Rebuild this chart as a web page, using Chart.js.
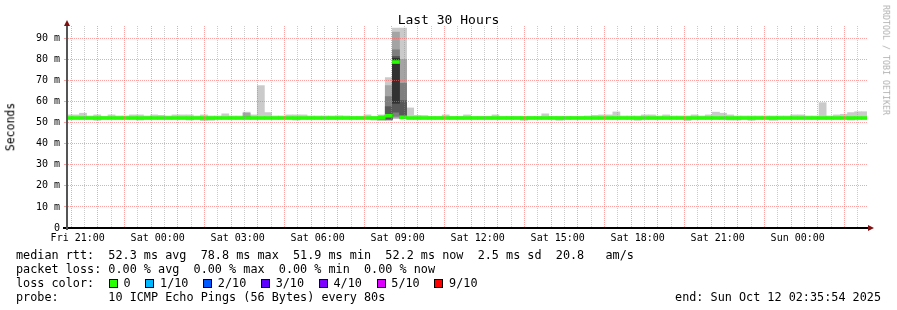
<!DOCTYPE html>
<html>
<head>
<meta charset="utf-8">
<script src="https://cdn.jsdelivr.net/npm/chart.js@4.4.0/dist/chart.umd.min.js"></script>
<style>
  html, body { margin: 0; padding: 0; background: #fff; }
  #wrap { position: relative; width: 897px; height: 310px; overflow: hidden; font-family: "DejaVu Sans Mono", monospace; color: #000; }
  #chart { position: absolute; left: 0; top: 0; }
  .txt { position: absolute; white-space: pre; line-height: 1; }
  #title { left: 0; width: 897px; text-align: center; top: 13px; font-size: 13px; }
  #ylabel { left: 11px; top: 127px; font-size: 11.5px; transform: translate(-50%, -50%) rotate(-90deg); }
  #credit { left: 886px; top: 60px; font-size: 8.3px; color: #b0b0b0; transform: translate(-50%, -50%) rotate(90deg); }
  #legend { left: 16px; top: 248px; font-size: 11.8px; white-space: normal; }
  #legend div { height: 14px; line-height: 14px; white-space: pre; }
  .box { display: inline-block; width: 7px; height: 7px; border: 1px solid #000; margin-left: 0.5px; margin-right: 5.7px; vertical-align: -1px; }
  #end { right: 16px; top: 290px; font-size: 11.8px; line-height: 14px; }
</style>
</head>
<body>
<div id="wrap">
  <canvas id="chart" width="897" height="310"></canvas>
  <div id="title" class="txt">Last 30 Hours</div>
  <div id="ylabel" class="txt">Seconds</div>
  <div id="credit" class="txt">RRDTOOL / TOBI OETIKER</div>
  <div id="legend" class="txt">
    <div>median rtt:  52.3 ms avg  78.8 ms max  51.9 ms min  52.2 ms now  2.5 ms sd  20.8   am/s</div>
    <div>packet loss: 0.00 % avg  0.00 % max  0.00 % min  0.00 % now</div>
    <div id="lossRow"></div>
    <div>probe:       10 ICMP Echo Pings (56 Bytes) every 80s</div>
  </div>
  <div id="end" class="txt">end: Sun Oct 12 02:35:54 2025</div>
</div>
<script>
// time range, in hours since Fri 00:00
const startHour = 20 + 35 / 60 + 54 / 3600;   // Fri 20:35:54
const endHour = startHour + 30;                // Sun 02:35:54
// consolidated rows: 12 x 80 s = 16 min, first row starts Fri 20:32
const firstBinMinute = 20 * 60 + 32;
const binMinutes = 16;

// highest / lowest ping of each row (outer smoke), ms
const pingHigh = [
  53.7, 53.7, 54.5, 53.2, 53.7, 53.0, 53.7, 53.2, 53.2, 53.7,
  53.7, 53.2, 53.7, 53.5, 53.2, 53.7, 53.7, 53.7, 53.2, 53.7,
  53.2, 53.2, 54.2, 53.2, 53.2, 55.0, 53.7, 67.6, 54.8, 53.2,
  53.2, 53.7, 53.7, 53.7, 53.2, 53.2, 53.2, 53.2, 53.3, 53.2,
  53.0, 53.0, 53.7, 53.0, 53.7, 71.4, 94.9, 94.9, 57.0, 53.5,
  53.4, 53.0, 53.0, 53.7, 53.0, 53.0, 53.7, 53.0, 53.0, 53.0,
  53.7, 53.0, 53.0, 53.0, 53.0, 53.0, 53.0, 54.2, 53.0, 53.0,
  53.0, 53.0, 53.0, 53.2, 53.5, 53.7, 53.7, 55.1, 53.2, 53.2,
  53.2, 53.7, 53.7, 53.2, 53.7, 53.2, 53.2, 53.2, 53.7, 53.2,
  53.7, 55.0, 54.5, 53.7, 53.2, 53.2, 53.2, 53.2, 53.2, 53.2,
  53.2, 53.2, 53.7, 53.7, 53.2, 53.2, 59.5, 53.2, 53.7, 54.0,
  54.8, 55.2, 55.2
];
const pingLow = [
  51.9, 51.9, 51.9, 51.9, 51.1, 51.9, 51.9, 51.9, 51.9, 51.9,
  51.2, 51.9, 51.9, 51.9, 51.9, 51.9, 51.9, 51.2, 51.9, 51.0,
  51.1, 51.9, 51.9, 51.9, 51.9, 51.9, 51.9, 51.9, 51.9, 51.9,
  51.9, 51.9, 51.2, 51.9, 51.9, 51.9, 51.9, 51.9, 51.9, 51.9,
  51.9, 51.9, 51.9, 51.2, 51.1, 51.1, 51.9, 51.8, 51.9, 51.9,
  51.9, 51.9, 51.9, 51.9, 51.9, 51.9, 51.9, 51.9, 51.9, 51.9,
  51.9, 51.9, 51.9, 51.9, 51.1, 51.9, 51.9, 51.9, 51.9, 51.1,
  51.9, 51.9, 51.9, 51.9, 51.9, 51.9, 51.9, 51.9, 51.9, 51.9,
  51.1, 51.9, 51.9, 51.9, 51.9, 51.9, 51.9, 51.0, 51.9, 51.9,
  51.9, 51.9, 51.9, 51.2, 51.2, 51.9, 51.1, 51.9, 51.9, 51.1,
  51.9, 51.9, 51.9, 51.9, 51.9, 51.9, 51.9, 51.9, 51.9, 51.9,
  51.2, 51.9, 51.9
];
// median rtt of each row, ms
const median = [
  52.2, 52.2, 52.2, 52.2, 52.2, 52.2, 52.2, 52.2, 52.2, 52.2,
  52.2, 52.2, 52.2, 52.2, 52.2, 52.2, 52.2, 52.2, 52.2, 52.2,
  52.2, 52.2, 52.2, 52.2, 52.2, 52.2, 52.2, 52.2, 52.2, 52.2,
  52.2, 52.2, 52.2, 52.2, 52.2, 52.2, 52.2, 52.2, 52.2, 52.2,
  52.2, 52.2, 52.2, 52.2, 52.3, 53.3, 78.8, 52.6, 52.2, 52.2,
  52.2, 52.2, 52.2, 52.2, 52.2, 52.2, 52.2, 52.2, 52.2, 52.2,
  52.2, 52.2, 52.2, 52.2, 52.2, 52.2, 52.2, 52.2, 52.2, 52.2,
  52.2, 52.2, 52.2, 52.2, 52.2, 52.2, 52.2, 52.2, 52.2, 52.2,
  52.2, 52.2, 52.2, 52.2, 52.2, 52.2, 52.2, 52.2, 52.2, 52.2,
  52.2, 52.2, 52.2, 52.2, 52.2, 52.2, 52.2, 52.2, 52.2, 52.2,
  52.2, 52.2, 52.2, 52.2, 52.2, 52.2, 52.2, 52.2, 52.2, 52.2,
  52.2, 52.2, 52.2
];
// rows where the inner smoke shows: all 10 sorted pings
const detailBins = [25, 44, 45, 46, 47];
const detailPings = [
  [51.9, 52.0, 52.1, 52.2, 52.2, 52.3, 52.4, 52.8, 54.5, 55.0],
  [51.1, 51.3, 51.5, 51.8, 52.1, 52.3, 52.5, 52.8, 53.2, 53.7],
  [51.1, 51.3, 51.5, 51.7, 53.0, 53.7, 57.6, 62.4, 67.6, 71.4],
  [51.9, 52.3, 53.0, 55.0, 59.2, 80.6, 81.5, 84.6, 93.0, 94.9],
  [51.8, 52.0, 52.1, 52.3, 52.5, 53.2, 60.5, 68.7, 80.0, 94.9]
];

const xTickLabels = ['Fri 21:00', 'Sat 00:00', 'Sat 03:00', 'Sat 06:00', 'Sat 09:00',
                     'Sat 12:00', 'Sat 15:00', 'Sat 18:00', 'Sat 21:00', 'Sun 00:00'];
const yTickLabels = ['0', '10 m', '20 m', '30 m', '40 m', '50 m', '60 m', '70 m', '80 m', '90 m'];

const lossLabels = ['0', '1/10', '2/10', '3/10', '4/10', '5/10', '9/10'];
const lossColors = ['#26ff00', '#00b8ff', '#0059ff', '#5e00ff', '#7e00ff', '#dd00ff', '#ff0000'];

const smokeShades = ['#cacaca', '#a4a4a4', '#7e7e7e', '#585858', '#323232'];
const medianHalf = 0.7;   // half thickness of the median band, ms

document.getElementById('lossRow').innerHTML = 'loss color:  ' + lossLabels.map((l, i) =>
  `<span class="box" style="background:${lossColors[i]}"></span>${l}`).join('  ');

const binCenters = pingHigh.map((_, i) => (firstBinMinute + binMinutes * (i + 0.5)) / 60);

const barStyle = { borderWidth: 0, barPercentage: 1, categoryPercentage: 1, grouped: false, clip: 0 };

const smokeSets = smokeShades.map((color, k) => ({
  label: 'smoke ' + (k + 1),
  data: binCenters.map((_, i) => {
    if (k === 0) return [pingLow[i], pingHigh[i]];
    const j = detailBins.indexOf(i);
    return j < 0 ? null : [detailPings[j][k], detailPings[j][9 - k]];
  }),
  backgroundColor: color,
  order: 10 - k,
  ...barStyle
}));

const medianSet = {
  label: 'median rtt',
  data: median.map(m => [m - medianHalf, m + medianHalf]),
  backgroundColor: lossColors[0],
  order: 0,
  ...barStyle
};

const majorGrid = 'rgba(255,100,100,0.6)';
const minorGrid = 'rgba(140,140,140,0.45)';
const tickFont = { family: 'DejaVu Sans Mono', size: 10 };

// axis overshoot and arrow heads, rrdtool style
const axisArrows = {
  id: 'axisArrows',
  afterDraw(chart) {
    const { ctx, chartArea: a } = chart;
    ctx.save();
    ctx.lineWidth = 2;
    ctx.strokeStyle = '#000';
    ctx.beginPath();
    ctx.moveTo(a.left - 4, a.bottom); ctx.lineTo(a.right + 2, a.bottom);
    ctx.stroke();
    ctx.strokeStyle = '#555';
    ctx.beginPath();
    ctx.moveTo(a.left, a.bottom + 2); ctx.lineTo(a.left, a.top - 1);
    ctx.stroke();
    ctx.fillStyle = '#7f1010';
    ctx.beginPath();
    ctx.moveTo(a.left - 3, a.top); ctx.lineTo(a.left + 3, a.top); ctx.lineTo(a.left, a.top - 6);
    ctx.fill();
    ctx.beginPath();
    ctx.moveTo(a.right + 1, a.bottom - 3); ctx.lineTo(a.right + 1, a.bottom + 3); ctx.lineTo(a.right + 7, a.bottom);
    ctx.fill();
    ctx.restore();
  }
};

new Chart(document.getElementById('chart'), {
  type: 'bar',
  data: { labels: binCenters, datasets: [medianSet, ...smokeSets] },
  options: {
    responsive: false,
    animation: false,
    devicePixelRatio: 1,
    layout: { padding: { left: 0, right: 30, top: 26, bottom: 0 } },
    plugins: { legend: { display: false }, tooltip: { enabled: false } },
    scales: {
      x: {
        type: 'linear',
        min: startHour,
        max: endHour,
        offset: false,
        afterBuildTicks: (scale) => {
          const ticks = [];
          for (let h = Math.ceil(startHour * 2) / 2; h <= endHour; h += 0.5) ticks.push({ value: h });
          scale.ticks = ticks;
        },
        afterFit: (scale) => { scale.height = 82; },
        grid: {
          z: 1,
          drawTicks: false,
          color: (c) => (c.tick && Number.isInteger(c.tick.value) ? majorGrid : minorGrid)
        },
        border: { dash: [1, 1], color: '#000', width: 2, z: 1 },
        ticks: {
          autoSkip: false,
          maxRotation: 0,
          padding: 4,
          color: '#000',
          font: tickFont,
          callback: (v) => {
            const i = (v - 21) / 3;
            return Number.isInteger(i) && xTickLabels[i] ? xTickLabels[i] : '';
          }
        }
      },
      y: {
        type: 'linear',
        min: 0,
        max: 95.9,
        afterBuildTicks: (scale) => {
          const ticks = [];
          for (let v = 0; v <= 90; v += 5) ticks.push({ value: v });
          scale.ticks = ticks;
        },
        afterFit: (scale) => { scale.width = 67; },
        grid: {
          z: 1,
          tickLength: 3,
          color: (c) => (c.tick && c.tick.value % 10 === 0 ? majorGrid : minorGrid),
          tickColor: (c) => (c.tick && c.tick.value % 10 === 0 ? majorGrid : 'rgba(0,0,0,0)')
        },
        border: { dash: [1, 1], color: '#555', width: 2, z: 1 },
        ticks: {
          padding: 4,
          color: '#000',
          font: tickFont,
          callback: (v) => (v % 10 === 0 ? yTickLabels[v / 10] : '')
        }
      }
    }
  },
  plugins: [axisArrows]
});
</script>
</body>
</html>
